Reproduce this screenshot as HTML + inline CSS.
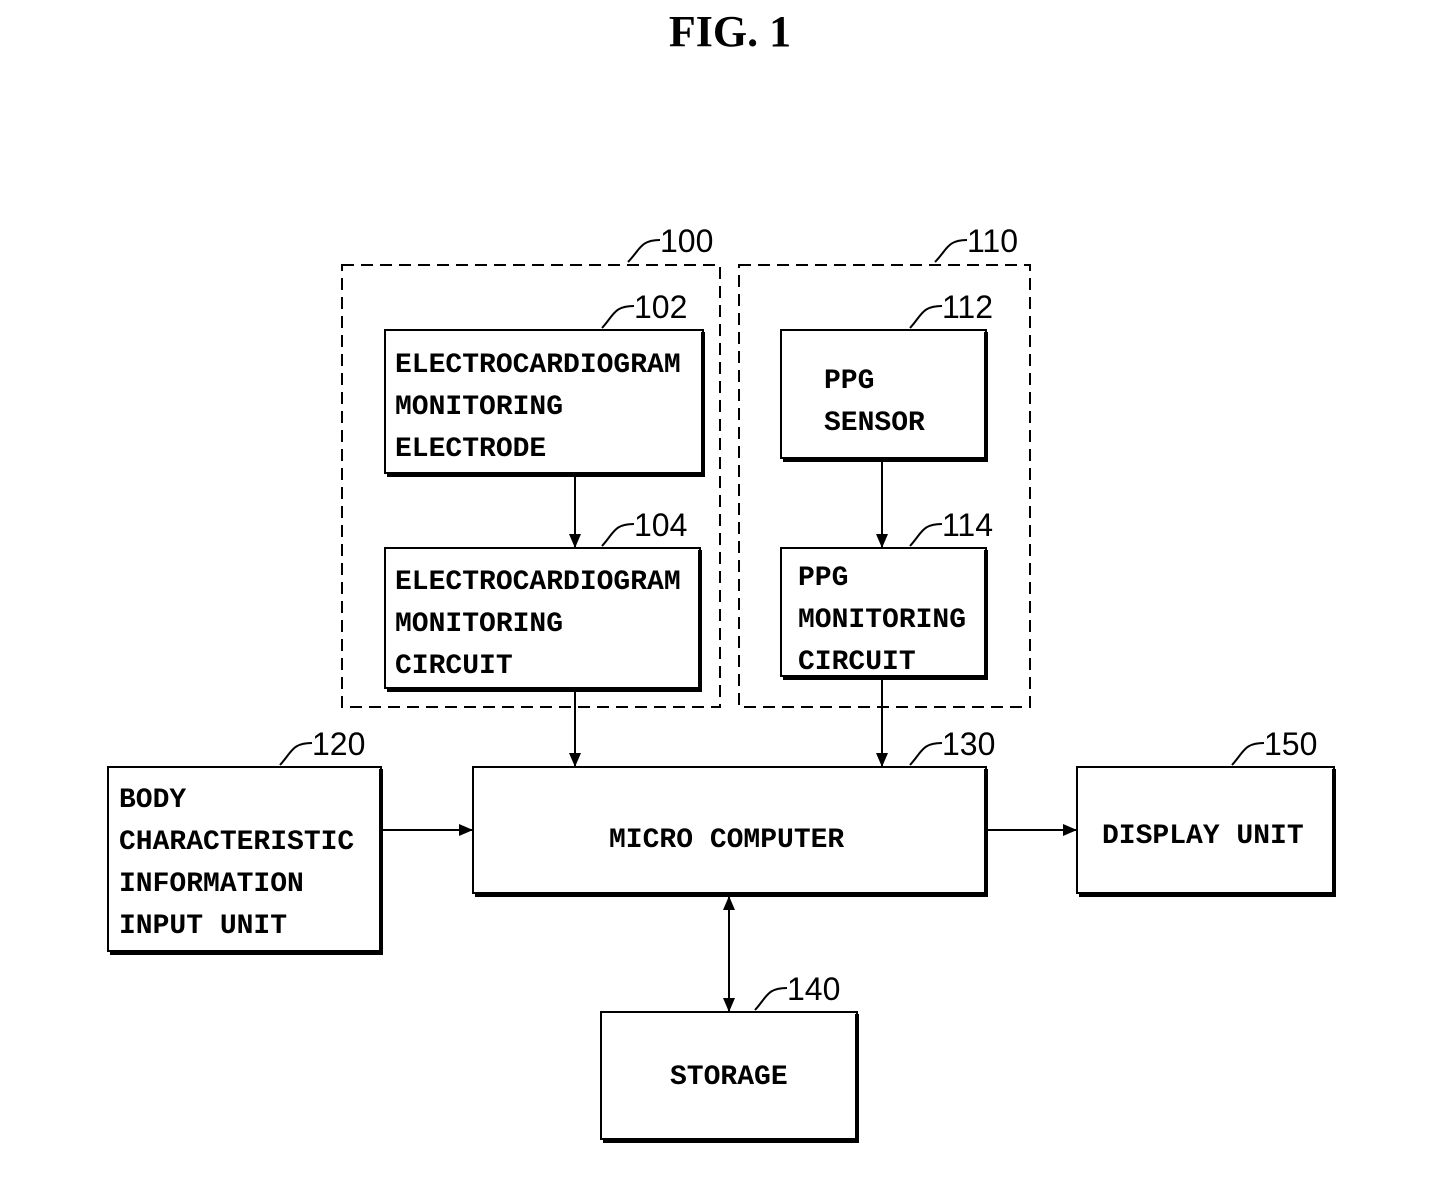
<!DOCTYPE html>
<html><head><style>body{margin:0;background:#fff}svg{display:block}</style></head><body>
<svg width="1431" height="1204" viewBox="0 0 1431 1204" xmlns="http://www.w3.org/2000/svg">
<defs><marker id="a" markerWidth="14" markerHeight="12" refX="13" refY="6" orient="auto" markerUnits="userSpaceOnUse"><path d="M0,0 L14,6 L0,12 Z" fill="#000"/></marker>
<marker id="b" markerWidth="14" markerHeight="12" refX="13" refY="6" orient="auto-start-reverse" markerUnits="userSpaceOnUse"><path d="M0,0 L14,6 L0,12 Z" fill="#000"/></marker></defs>
<text x="730" y="46" font-family="Liberation Serif" font-weight="bold" font-size="44" text-anchor="middle">FIG. 1</text>
<g fill="none" stroke="#000" stroke-width="2" stroke-dasharray="12,7">
<rect x="342" y="265" width="378" height="442"/><rect x="739" y="265" width="291" height="442"/></g>
<g fill="none" stroke="#000" stroke-width="2">
<rect x="385" y="330" width="318" height="143"/><rect x="385" y="548" width="315" height="140"/>
<rect x="781" y="330" width="205" height="128"/><rect x="781" y="548" width="205" height="128"/>
<rect x="108" y="767" width="273" height="184"/><rect x="473" y="767" width="513" height="126"/>
<rect x="1077" y="767" width="257" height="126"/><rect x="601" y="1012" width="256" height="127"/>
</g>
<g stroke="#000" stroke-width="4" fill="none">
<path d="M703,332V475H387M700,550V690H387M986,332V460H783M986,550V678H783M381,769V953H110M986,769V895H475M1334,769V895H1079M857,1014V1141H603"/>
</g>
<g stroke="#000" stroke-width="2" fill="none">
<line x1="575" y1="475" x2="575" y2="547" marker-end="url(#a)"/>
<line x1="575" y1="690" x2="575" y2="766" marker-end="url(#a)"/>
<line x1="882" y1="460" x2="882" y2="547" marker-end="url(#a)"/>
<line x1="882" y1="678" x2="882" y2="766" marker-end="url(#a)"/>
<line x1="383" y1="830" x2="472" y2="830" marker-end="url(#a)"/>
<line x1="988" y1="830" x2="1076" y2="830" marker-end="url(#a)"/>
<line x1="729" y1="897" x2="729" y2="1011" marker-start="url(#b)" marker-end="url(#a)"/>
<path d="M628,262 C640,250 640,240 660,240"/><path d="M935,262 C947,250 947,240 967,240"/>
<path d="M602,328 C614,315 614,306 634,306"/><path d="M910,328 C922,315 922,306 942,306"/>
<path d="M602,546 C614,533 614,524 634,524"/><path d="M910,546 C922,533 922,524 942,524"/>
<path d="M280,765 C292,752 292,743 312,743"/><path d="M910,765 C922,752 922,743 942,743"/>
<path d="M1232,765 C1244,752 1244,743 1264,743"/><path d="M755,1010 C767,997 767,988 787,988"/>
</g>
<g font-family="Liberation Sans" font-size="32">
<text x="660" y="252">100</text><text x="967" y="252">110</text>
<text x="634" y="318">102</text><text x="942" y="318">112</text>
<text x="634" y="536">104</text><text x="942" y="536">114</text>
<text x="312" y="755">120</text><text x="942" y="755">130</text>
<text x="1264" y="755">150</text><text x="787" y="1000">140</text>
</g>
<g font-family="Liberation Mono" font-size="28" font-weight="bold">
<text x="395" y="372">ELECTROCARDIOGRAM</text><text x="395" y="414">MONITORING</text><text x="395" y="456">ELECTRODE</text>
<text x="395" y="589">ELECTROCARDIOGRAM</text><text x="395" y="631">MONITORING</text><text x="395" y="673">CIRCUIT</text>
<text x="824" y="388">PPG</text><text x="824" y="430">SENSOR</text>
<text x="798" y="585">PPG</text><text x="798" y="627">MONITORING</text><text x="798" y="669">CIRCUIT</text>
<text x="119" y="807">BODY</text><text x="119" y="849">CHARACTERISTIC</text><text x="119" y="891">INFORMATION</text><text x="119" y="933">INPUT UNIT</text>
<text x="609" y="847">MICRO COMPUTER</text><text x="1102" y="843">DISPLAY UNIT</text><text x="670" y="1084">STORAGE</text>
</g>
</svg>
</body></html>
